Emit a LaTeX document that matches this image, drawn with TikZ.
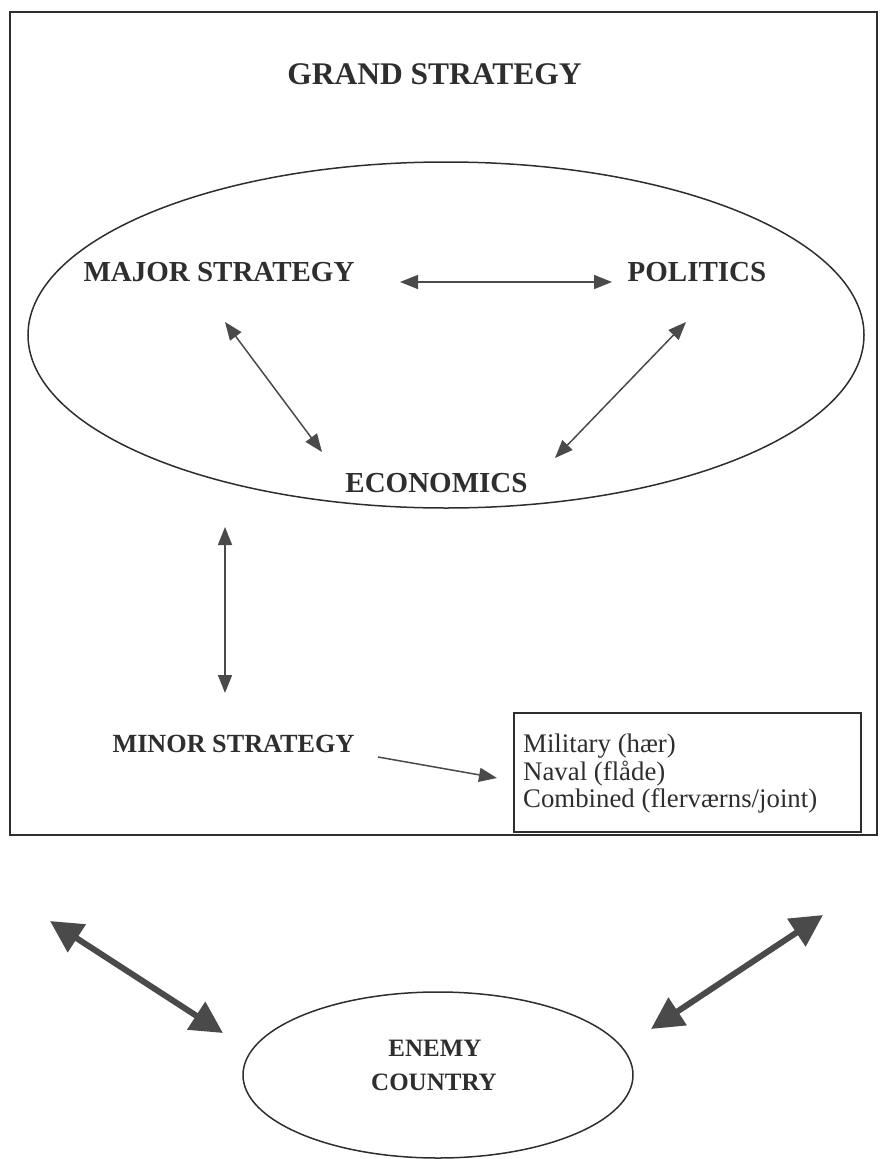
\documentclass[tikz,border=0pt]{standalone}
\usepackage{fontspec}
\setmainfont{Liberation Serif}
\usetikzlibrary{shapes.geometric,arrows.meta}
\definecolor{ink}{HTML}{2E2E2E}
\definecolor{arr}{HTML}{4A4A4A}
\begin{document}
\begin{tikzpicture}[x=1pt,y=-1pt,
  lbl/.style={text=ink,font=\bfseries\fontsize{29}{34}\selectfont,anchor=base,inner sep=0},
  thin arrow/.style={draw=arr,line width=1.5pt,{Triangle[length=18pt,width=14pt]}-{Triangle[length=18pt,width=14pt]}},
  one arrow/.style={draw=arr,line width=1.5pt,-{Triangle[length=18pt,width=14pt]}},
  thick arrow/.style={draw=arr,line width=6pt,{Triangle[length=32pt,width=32pt]}-{Triangle[length=32pt,width=32pt]}},
  boxtext/.style={text=ink,font=\fontsize{26.8}{28}\selectfont,anchor=base west,inner sep=0},
  oval/.style={draw=ink,line width=1.5pt,ellipse,inner sep=0}]
\useasboundingbox (0,0) rectangle (879,1159);
% outer frame
\draw[draw=ink,line width=2pt] (10,12) rectangle (877,835);
% big ellipse
\node[oval,minimum width=836pt,minimum height=346pt] (inner) at (446,335) {};
% texts
\node[lbl,font=\bfseries\fontsize{31.5}{36}\selectfont] (grand) at (434.5,84) {GRAND STRATEGY};
\node[lbl] (major) at (219,281) {MAJOR STRATEGY};
\node[lbl] (politics) at (697,281) {POLITICS};
\node[lbl] (econ) at (436.5,492) {ECONOMICS};
\node[lbl,font=\bfseries\fontsize{26.2}{30}\selectfont] (minor) at (233.5,752) {MINOR STRATEGY};
% box with branches
\node[draw=ink,line width=1.5pt,minimum width=347pt,minimum height=119pt,inner sep=0] (branches) at (687.5,772.5) {};
\node[boxtext] (mil) at (523,752) {Military (hær)};
\node[boxtext] (nav) at (523,780) {Naval (flåde)};
\node[boxtext] (comb) at (523,807) {Combined (flerværns/joint)};
% enemy ellipse
\node[oval,minimum width=390pt,minimum height=166pt] (enemy) at (438,1075) {};
\node[lbl,font=\bfseries\fontsize{25}{28}\selectfont] (enemyA) at (435,1056) {ENEMY};
\node[lbl,font=\bfseries\fontsize{25}{28}\selectfont] (enemyB) at (434,1090) {COUNTRY};
% arrow end points
\coordinate (a1) at (400,282);
\coordinate (a2) at (612,282);
\coordinate (b1) at (225,322);
\coordinate (b2) at (322,452);
\coordinate (c1) at (686,322);
\coordinate (c2) at (555,458);
\coordinate (d1) at (225,527);
\coordinate (d2) at (225,693);
\coordinate (e1) at (378,757);
\coordinate (e2) at (497,778);
\coordinate (f1) at (50,921);
\coordinate (f2) at (223,1033);
\coordinate (g1) at (823,915);
\coordinate (g2) at (651,1029);
% arrows
\draw[thin arrow] (a1) -- (a2);
\draw[thin arrow] (b1) -- (b2);
\draw[thin arrow] (c1) -- (c2);
\draw[thin arrow] (d1) -- (d2);
\draw[one arrow] (e1) -- (e2);
\draw[thick arrow] (f1) -- (f2);
\draw[thick arrow] (g1) -- (g2);
\end{tikzpicture}
\end{document}
